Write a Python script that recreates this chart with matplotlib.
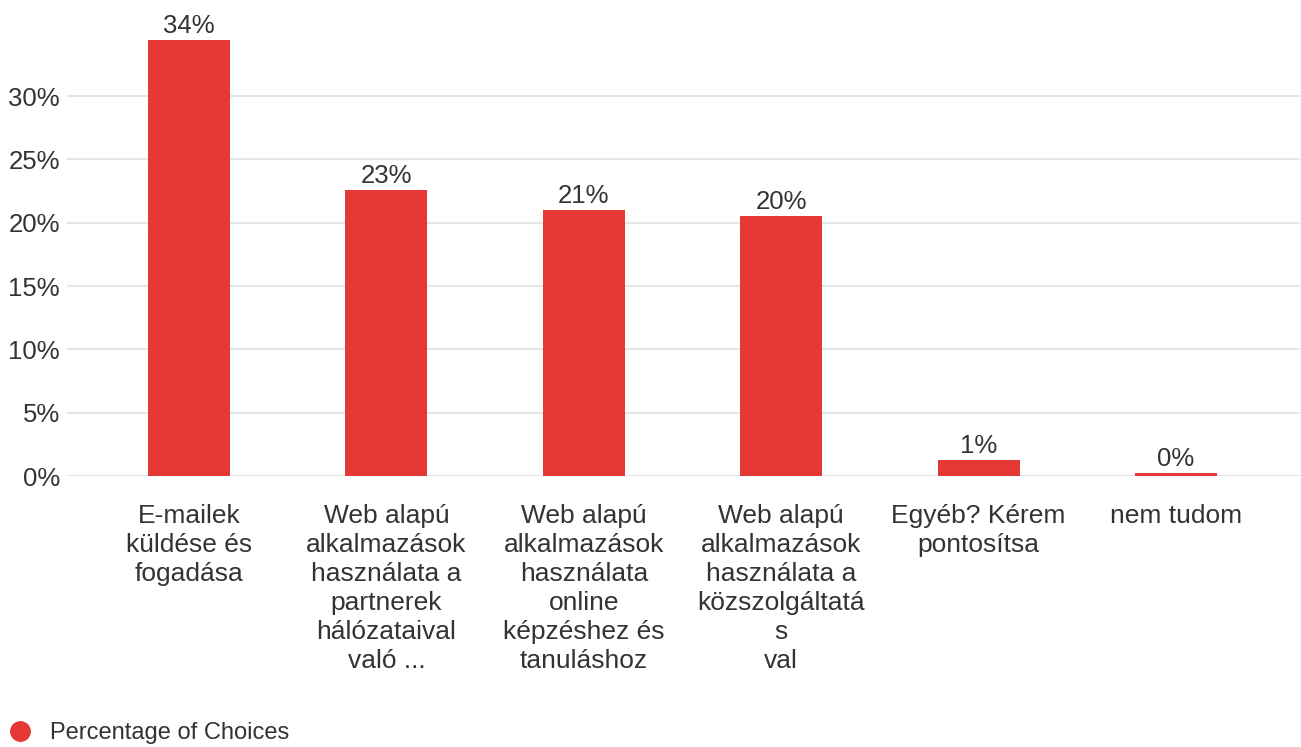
import numpy as np
import matplotlib.pyplot as plt
from matplotlib.lines import Line2D

# categories and values
categories = [
    "E-mailek\nküldése és\nfogadása",
    "Web alapú\nalkalmazások\nhasználata a\npartnerek\nhálózataival\nvaló ...",
    "Web alapú\nalkalmazások\nhasználata\nonline\nképzéshez és\ntanuláshoz",
    "Web alapú\nalkalmazások\nhasználata a\nközszolgáltatá\ns\nval",
    "Egyéb? Kérem\npontosítsa",
    "nem tudom",
]
values = [34.4, 22.6, 21.0, 20.5, 1.26, 0.24]
yticks = [0, 5, 10, 15, 20, 25, 30]
series_name = "Percentage of Choices"

red = "#e53935"
txt = "#333333"
plt.rcParams['font.family'] = ['Liberation Sans', 'DejaVu Sans']

W, H = 1301, 747
fig = plt.figure(figsize=(W / 100, H / 100), dpi=100)
ax = fig.add_axes([67 / W, 1 - 476 / H, (1300 - 67) / W, (476 - 20) / H])

x = np.arange(len(categories))
bars = ax.bar(x, values, width=0.415, color=red, zorder=3)

# value labels above bars
for b, v in zip(bars, values):
    ax.annotate(f"{round(v):.0f}%", (b.get_x() + b.get_width() / 2, b.get_height()),
                xytext=(0, 1.5), textcoords="offset points",
                ha="center", va="bottom", fontsize=18.5, color=txt)

ax.set_xlim(-0.618, 5.628)
ax.set_ylim(0, 36)
ax.set_yticks(yticks)
ax.set_yticklabels([f"{t}%" for t in yticks])
ax.set_xticks(x)
ax.set_xticklabels(categories, linespacing=1.26)

ax.tick_params(axis='y', length=0, pad=5, labelsize=18.5, labelcolor=txt)
ax.tick_params(axis='x', length=0, pad=20.5, labelsize=19, labelcolor=txt)
ax.grid(axis='y', color='#e6e6e6', linewidth=1.5, zorder=0)
for s in ax.spines.values():
    s.set_visible(False)

# legend at bottom-left
handle = Line2D([], [], marker='o', linestyle='none', markersize=14,
                markerfacecolor=red, markeredgecolor=red)
fig.legend([handle], [series_name], loc='center left',
           bbox_to_anchor=(3 / W, 1 - 733 / H), frameon=False,
           fontsize=17, handletextpad=0.78, labelcolor=txt,
           handlelength=1.0, borderaxespad=0, borderpad=0.2)

fig.savefig("out.png", dpi=100)
